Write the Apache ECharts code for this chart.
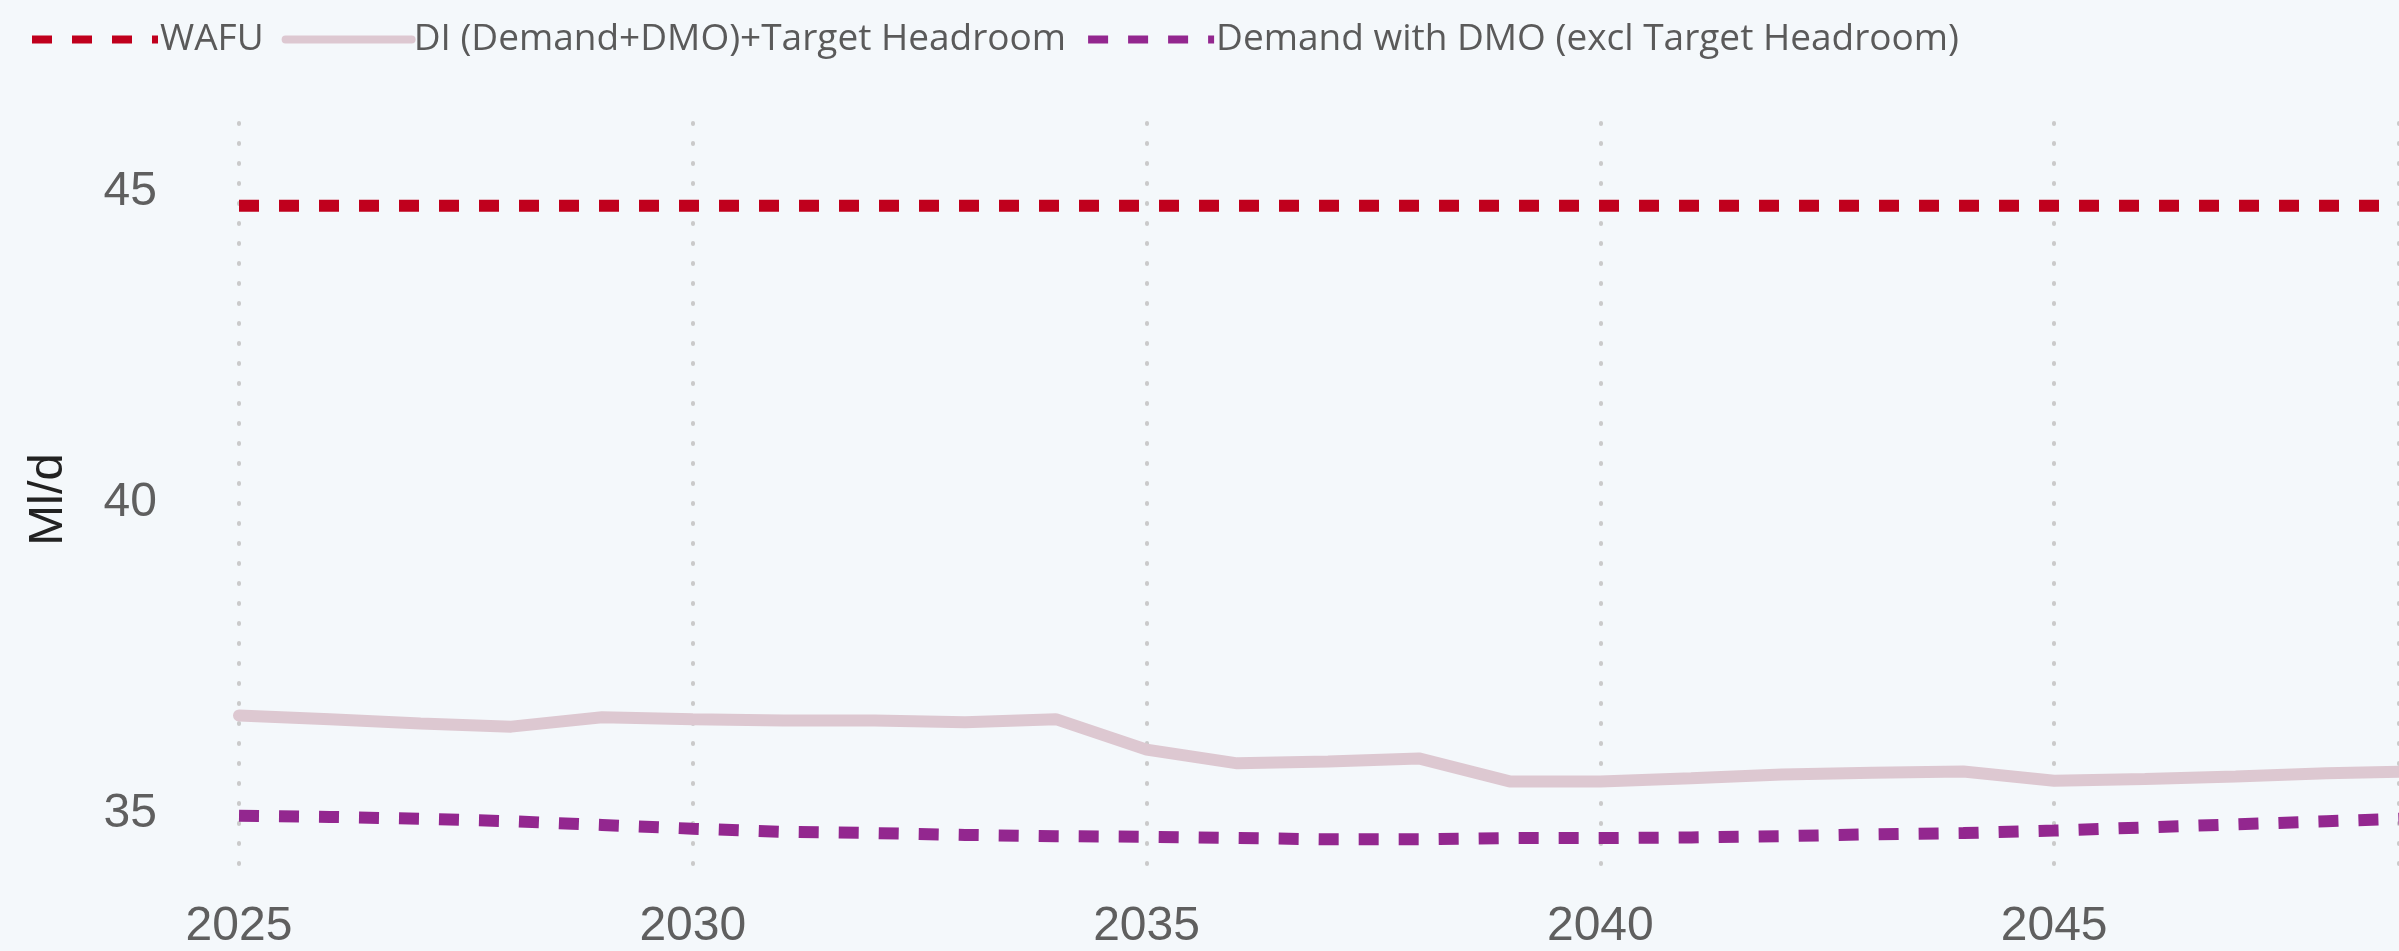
<!DOCTYPE html>
<html>
<head>
<meta charset="utf-8">
<script src="https://cdn.jsdelivr.net/npm/echarts@6/dist/echarts.min.js"></script>
<style>
  html, body { margin: 0; padding: 0; background: #f4f8fb; }
  #main { width: 2399px; height: 951px; }
</style>
</head>
<body>
<div id="main"></div>
<script>
// 年份
var years = [2025, 2026, 2027, 2028, 2029, 2030, 2031, 2032, 2033, 2034, 2035, 2036, 2037,
  2038, 2039, 2040, 2041, 2042, 2043, 2044, 2045, 2046, 2047, 2048, 2049];
// WAFU (constant)
var wafu = [44.77, 44.77, 44.77, 44.77, 44.77, 44.77, 44.77, 44.77, 44.77, 44.77, 44.77, 44.77, 44.77,
  44.77, 44.77, 44.77, 44.77, 44.77, 44.77, 44.77, 44.77, 44.77, 44.77, 44.77, 44.77];
// DI (Demand+DMO)+Target Headroom
var diHeadroom = [36.58, 36.52, 36.45, 36.40, 36.55, 36.52, 36.50, 36.50, 36.47, 36.52, 36.03, 35.81, 35.84,
  35.89, 35.52, 35.52, 35.57, 35.63, 35.66, 35.68, 35.53, 35.56, 35.60, 35.65, 35.68];
// Demand with DMO (excl Target Headroom)
var demandDmo = [34.97, 34.95, 34.92, 34.88, 34.82, 34.76, 34.71, 34.69, 34.66, 34.64, 34.63, 34.61, 34.59,
  34.59, 34.61, 34.61, 34.62, 34.64, 34.67, 34.69, 34.73, 34.78, 34.83, 34.88, 34.93];

function pairs(vals) {
  var out = [];
  for (var i = 0; i < years.length; i++) {
    out.push([years[i], vals[i]]);
  }
  return out;
}

var chart = echarts.init(document.getElementById("main"));
chart.setOption({
  backgroundColor: "#f4f8fb",
  animation: false,
  legend: {
    left: 23,
    top: 16,
    itemWidth: 126,
    itemHeight: 30,
    itemGap: 18,
    lineStyle: { width: 8 },
    itemStyle: { opacity: 0 },
    textStyle: {
      fontFamily: "Open Sans",
      fontSize: 37,
      color: "#5a5a5a",
      padding: [0, 0, 0, -3]
    },
    data: ["WAFU", "DI (Demand+DMO)+Target Headroom", "Demand with DMO (excl Target Headroom)"]
  },
  grid: {
    left: 239,
    right: 0,
    top: 123,
    bottom: 68
  },
  xAxis: {
    type: "value",
    min: 2025,
    max: 2048.8,
    interval: 5,
    axisLine: { show: false },
    axisTick: { show: false },
    axisLabel: {
      showMaxLabel: false,
      fontFamily: "Liberation Sans",
      fontSize: 48,
      color: "#5f5f5f",
      margin: 27,
      formatter: function (v) {
        return String(v);
      }
    },
    splitLine: {
      show: true,
      lineStyle: { color: "#cacaca", width: 4, type: [1, 19], cap: "round" }
    }
  },
  yAxis: {
    type: "value",
    min: 34,
    max: 46.1,
    interval: 1,
    name: "Ml/d",
    nameLocation: "middle",
    nameGap: 166,
    nameTextStyle: {
      fontFamily: "Liberation Sans",
      fontSize: 49,
      color: "#222"
    },
    axisLine: { show: false },
    axisTick: { show: false },
    splitLine: { show: false },
    axisLabel: {
      showMaxLabel: false,
      fontFamily: "Liberation Sans",
      fontSize: 48,
      color: "#5f5f5f",
      margin: 82,
      formatter: function (v) {
        return v % 5 === 0 ? String(v) : "";
      }
    }
  },
  series: [
    {
      name: "WAFU",
      type: "line",
      symbol: "none",
      data: pairs(wafu),
      lineStyle: { color: "#c0001d", width: 12, type: [20, 20] },
      itemStyle: { color: "#c0001d" },
      z: 3
    },
    {
      name: "DI (Demand+DMO)+Target Headroom",
      type: "line",
      symbol: "none",
      data: pairs(diHeadroom),
      lineStyle: { color: "#ddc8d1", width: 12, cap: "round" },
      itemStyle: { color: "#ddc8d1" },
      z: 2
    },
    {
      name: "Demand with DMO (excl Target Headroom)",
      type: "line",
      symbol: "none",
      data: pairs(demandDmo),
      lineStyle: { color: "#93278f", width: 12, type: [20, 20] },
      itemStyle: { color: "#93278f" },
      z: 3
    }
  ]
});
</script>
</body>
</html>
